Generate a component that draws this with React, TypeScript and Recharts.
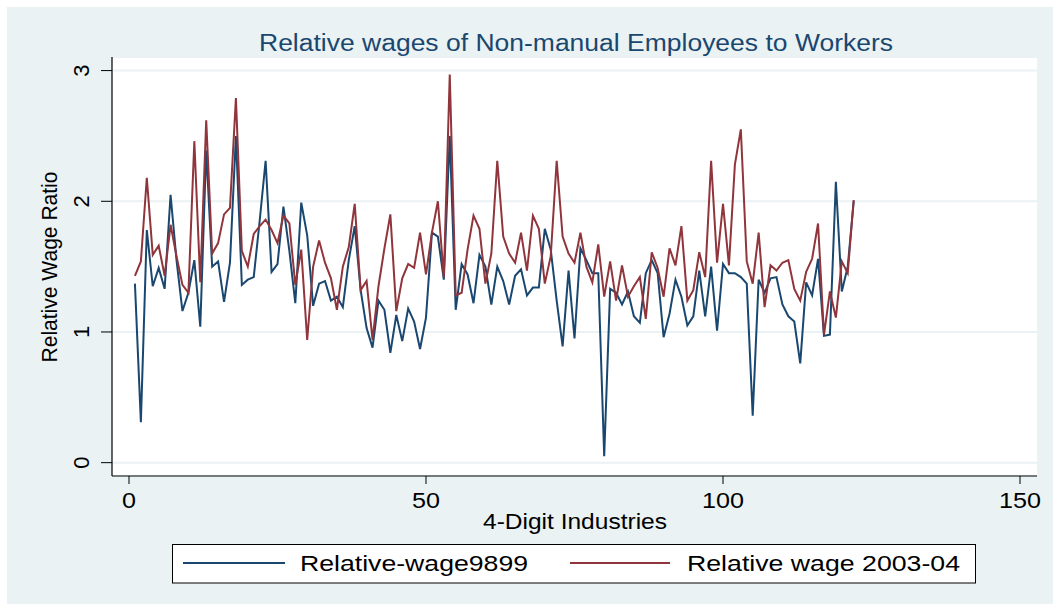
import React from 'react';
import { LineChart, Line, XAxis, YAxis, CartesianGrid } from 'recharts';

// relative wage ratios, industries 1..122
const wage9899 = [
  1.37, 0.31, 1.78, 1.35, 1.49, 1.33, 2.05, 1.55, 1.16, 1.3,
  1.55, 1.04, 2.39, 1.5, 1.54, 1.23, 1.53, 2.5, 1.36, 1.4,
  1.42, 1.85, 2.31, 1.46, 1.52, 1.96, 1.62, 1.22, 1.99, 1.74,
  1.2, 1.37, 1.39, 1.24, 1.27, 1.19, 1.55, 1.81, 1.32, 1.03,
  0.88, 1.24, 1.17, 0.84, 1.13, 0.93, 1.18, 1.08, 0.87, 1.11,
  1.76, 1.73, 1.4, 2.5, 1.17, 1.52, 1.44, 1.22, 1.59, 1.5,
  1.21, 1.5, 1.39, 1.21, 1.43, 1.48, 1.28, 1.34, 1.34, 1.79,
  1.63, 1.24, 0.89, 1.47, 0.95, 1.64, 1.55, 1.45, 1.45, 0.05,
  1.33, 1.3, 1.21, 1.31, 1.12, 1.07, 1.45, 1.55, 1.45, 0.96,
  1.14, 1.4, 1.27, 1.05, 1.12, 1.47, 1.12, 1.5, 1.01, 1.52,
  1.45, 1.45, 1.42, 1.37, 0.36, 1.4, 1.3, 1.41, 1.42, 1.21,
  1.12, 1.08, 0.76, 1.38, 1.28, 1.56, 0.97, 0.98, 2.15, 1.31,
  1.5, 2.0,
];

const wage200304 = [
  1.43, 1.54, 2.18, 1.59, 1.66, 1.43, 1.82, 1.58, 1.36, 1.3,
  2.46, 1.38, 2.62, 1.6, 1.68, 1.9, 1.95, 2.79, 1.62, 1.5,
  1.75, 1.81, 1.86, 1.78, 1.68, 1.89, 1.83, 1.36, 1.63, 0.94,
  1.5, 1.7, 1.53, 1.41, 1.17, 1.5, 1.65, 1.98, 1.32, 1.39,
  0.94, 1.35, 1.64, 1.9, 1.16, 1.41, 1.52, 1.49, 1.76, 1.44,
  1.76, 2.0, 1.42, 2.97, 1.28, 1.3, 1.63, 1.89, 1.79, 1.37,
  1.6, 2.31, 1.73, 1.6, 1.53, 1.76, 1.47, 1.89, 1.79, 1.37,
  1.58, 2.31, 1.73, 1.6, 1.53, 1.76, 1.5, 1.38, 1.67, 1.27,
  1.54, 1.24, 1.51, 1.27, 1.35, 1.42, 1.1, 1.61, 1.49, 1.27,
  1.64, 1.51, 1.81, 1.24, 1.32, 1.61, 1.42, 2.31, 1.53, 1.98,
  1.51, 2.28, 2.55, 1.54, 1.37, 1.76, 1.19, 1.51, 1.47, 1.53,
  1.55, 1.33, 1.24, 1.46, 1.56, 1.83, 0.98, 1.31, 1.11, 1.54,
  1.45, 2.01,
];

const industries = wage9899.map((_, i) => i + 1);
const xTicks = [0, 50, 100, 150];
const yTicks = [0, 1, 2, 3];

const data = industries.map((ind, i) => ({
  ind,
  w9899: wage9899[i],
  w0304: wage200304[i],
}));

const NAVY = '#1a476f';
const MAROON = '#90353b';
const BG = '#eaf2f3';
const FONT = 'Arial, "Liberation Sans", Helvetica, sans-serif';

const XTick = (props: any) => {
  const { x, payload } = props;
  const label = String(payload.value);
  return (
    <text
      x={x}
      y={508}
      textAnchor="middle"
      fontSize={22}
      fontFamily={FONT}
      fill="#000"
      textLength={label.length * 14}
      lengthAdjust="spacingAndGlyphs"
    >
      {label}
    </text>
  );
};

const YTick = (props: any) => {
  const { y, payload } = props;
  return (
    <text
      x={89}
      y={y}
      transform={`rotate(-90, 89, ${y})`}
      textAnchor="middle"
      fontSize={22}
      fontFamily={FONT}
      fill="#000"
    >
      {payload.value}
    </text>
  );
};

export default function App() {
  return (
    <div style={{ position: 'absolute', left: 0, top: 0, width: 1053, height: 605, background: '#fff', overflow: 'hidden' }}>
      <div style={{ position: 'absolute', left: 7, top: 7, right: 0, bottom: 1, background: BG }} />
      <div style={{ position: 'absolute', left: 0, top: 0 }}>
        <LineChart width={1053} height={605} data={data} margin={{ top: 57, right: 16, left: 0, bottom: 0 }}>
          <CartesianGrid vertical={false} stroke={BG} strokeWidth={2} fill="#fff" />
          <XAxis
            dataKey="ind"
            type="number"
            domain={[-2.86, 152.86]}
            ticks={xTicks}
            interval={0}
            allowDataOverflow
            height={129}
            tickSize={8}
            axisLine={{ stroke: '#000', strokeWidth: 1.2 }}
            tickLine={{ stroke: '#000' }}
            tick={<XTick />}
          />
          <YAxis
            type="number"
            domain={[-0.102, 3.104]}
            ticks={yTicks}
            interval={0}
            allowDataOverflow
            width={112}
            tickSize={11}
            axisLine={{ stroke: '#000', strokeWidth: 1.2 }}
            tickLine={{ stroke: '#000' }}
            tick={<YTick />}
          />
          <Line type="linear" dataKey="w9899" stroke={NAVY} strokeWidth={2} dot={false} isAnimationActive={false} />
          <Line type="linear" dataKey="w0304" stroke={MAROON} strokeWidth={2} dot={false} isAnimationActive={false} />
        </LineChart>
      </div>
      <svg width={1053} height={605} style={{ position: 'absolute', left: 0, top: 0, pointerEvents: 'none' }}>
        <text x={576} y={51} textAnchor="middle" fontSize={23} fontFamily={FONT} fill={NAVY} textLength={634} lengthAdjust="spacingAndGlyphs">
          Relative wages of Non-manual Employees to Workers
        </text>
        <text x={575} y={529} textAnchor="middle" fontSize={22} fontFamily={FONT} fill="#000" textLength={184} lengthAdjust="spacingAndGlyphs">
          4-Digit Industries
        </text>
        <text x={57} y={267} transform="rotate(-90, 57, 267)" textAnchor="middle" fontSize={22} fontFamily={FONT} fill="#000" textLength={191} lengthAdjust="spacingAndGlyphs">
          Relative Wage Ratio
        </text>
        <rect x={172.5} y={544.5} width={803} height={38.5} fill="#fff" stroke="#000" strokeWidth={1} />
        <line x1={183} y1={563} x2={285} y2={563} stroke={NAVY} strokeWidth={2} />
        <text x={300} y={571} fontSize={22} fontFamily={FONT} fill="#000" textLength={228} lengthAdjust="spacingAndGlyphs">
          Relative-wage9899
        </text>
        <line x1={570} y1={563} x2={670} y2={563} stroke={MAROON} strokeWidth={2} />
        <text x={687} y={571} fontSize={22} fontFamily={FONT} fill="#000" textLength={273} lengthAdjust="spacingAndGlyphs">
          Relative wage 2003-04
        </text>
      </svg>
    </div>
  );
}
